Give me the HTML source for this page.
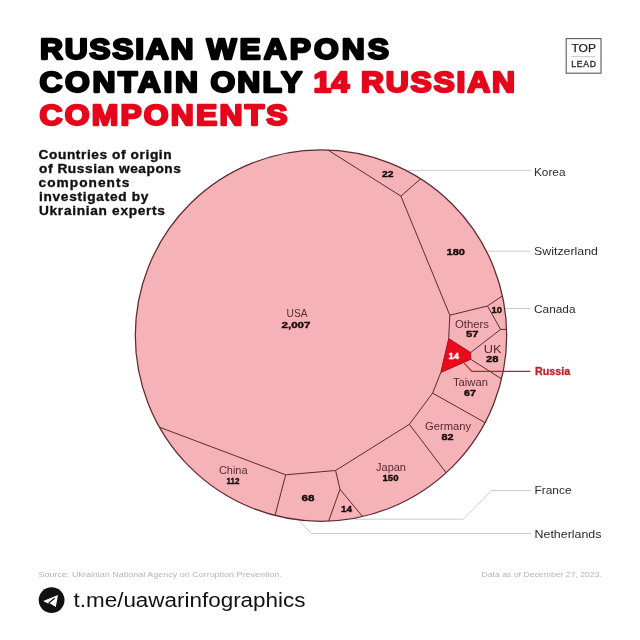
<!DOCTYPE html>
<html><head><meta charset="utf-8"><style>
html,body{margin:0;padding:0;background:#fff;overflow:hidden}
svg{display:block;font-family:"Liberation Sans",sans-serif;will-change:transform;}
</style></head><body>
<svg width="640" height="640" viewBox="0 0 640 640">
<rect width="640" height="640" fill="#fff"/>
<g fill="none" stroke="#cbcbcb" stroke-width="1">
<path d="M408 170.4H531"/>
<path d="M480 251.2H530"/>
<path d="M500 308.5H530.5"/>
<path d="M355 519.2H463.4L491.6 490.6H531.3"/>
<path d="M299.4 520.6L311 533.5H531.3"/>
</g>
<circle cx="321.0" cy="335.6" r="185.7" fill="#f5b3b8" stroke="#5e2a30" stroke-width="1.25"/>
<path d="M327.9 150.0L400.9 196.1M400.9 196.1L420.6 178.9M400.9 196.1L449.8 315.2M449.8 315.2L487.5 306.0M487.5 306.0L502.4 295.9M487.5 306.0L500.6 329.4M500.6 329.4L506.6 329.4M449.8 315.2L448.7 338.6M470.6 352.6L500.6 329.4M470.8 359.3L501.6 378.9M440.8 372.5L432.6 393.1M432.6 393.1L485.0 422.6M432.6 393.1L409.4 424.3M409.4 424.3L446.2 472.8M409.4 424.3L335.6 470.5M335.6 470.5L340.0 489.3M340.0 489.3L362.6 516.6M340.0 489.3L328.6 521.1M335.6 470.5L285.7 474.8M285.7 474.8L275.0 515.5M285.7 474.8L159.5 427.2" fill="none" stroke="#5e2a30" stroke-width="1"/>
<polygon points="448.7,338.6 470.6,352.6 470.8,359.3 440.8,372.5" fill="#ea0a1c" stroke="#a8101a" stroke-width="1" stroke-linejoin="round"/>
<path d="M464.1 363.2L471.9 371.4H530.3" fill="none" stroke="#b8222e" stroke-width="1.2"/>
<rect x="566.2" y="38.6" width="34.8" height="34.6" fill="none" stroke="#5a5a5a" stroke-width="1.1"/>
<line x1="571.5" y1="56.6" x2="595.5" y2="56.6" stroke="#c9a6ac" stroke-width="0.7"/>
<text x="40.00" y="59.45" font-family="Liberation Sans" font-size="28.924418604651162" font-weight="bold" fill="#000000" stroke="#000000" stroke-width="2.3" stroke-linejoin="round" textLength="139.50" lengthAdjust="spacing" transform="translate(-4.00 0) scale(1.1000 1)">RUSSIAN</text>
<text x="206.50" y="59.45" font-family="Liberation Sans" font-size="28.924418604651162" font-weight="bold" fill="#000000" stroke="#000000" stroke-width="2.3" stroke-linejoin="round" textLength="166.00" lengthAdjust="spacing" transform="translate(-20.65 0) scale(1.1000 1)">WEAPONS</text>
<text x="39.50" y="92.05" font-family="Liberation Sans" font-size="28.924418604651162" font-weight="bold" fill="#000000" stroke="#000000" stroke-width="2.3" stroke-linejoin="round" textLength="144.00" lengthAdjust="spacing" transform="translate(-3.95 0) scale(1.1000 1)">CONTAIN</text>
<text x="210.50" y="92.05" font-family="Liberation Sans" font-size="28.924418604651162" font-weight="bold" fill="#000000" stroke="#000000" stroke-width="2.3" stroke-linejoin="round" textLength="83.50" lengthAdjust="spacing" transform="translate(-21.05 0) scale(1.1000 1)">ONLY</text>
<text x="313.50" y="92.05" font-family="Liberation Sans" font-size="28.924418604651162" font-weight="bold" fill="#e6061b" stroke="#e6061b" stroke-width="2.3" stroke-linejoin="round" textLength="32.50" lengthAdjust="spacing" transform="translate(-31.35 0) scale(1.1000 1)">14</text>
<text x="361.00" y="92.05" font-family="Liberation Sans" font-size="28.924418604651162" font-weight="bold" fill="#e6061b" stroke="#e6061b" stroke-width="2.3" stroke-linejoin="round" textLength="140.00" lengthAdjust="spacing" transform="translate(-36.10 0) scale(1.1000 1)">RUSSIAN</text>
<text x="39.50" y="124.55" font-family="Liberation Sans" font-size="28.924418604651162" font-weight="bold" fill="#e6061b" stroke="#e6061b" stroke-width="2.3" stroke-linejoin="round" textLength="225.50" lengthAdjust="spacing" transform="translate(-3.95 0) scale(1.1000 1)">COMPONENTS</text>
<text x="38.50" y="159.32" font-family="Liberation Sans" font-size="12.427325581395351" font-weight="bold" fill="#111111" stroke="#111111" stroke-width="0.35" stroke-linejoin="round" textLength="121.00" lengthAdjust="spacing" transform="translate(-3.85 0) scale(1.1000 1)">Countries of origin</text>
<text x="39.00" y="173.32" font-family="Liberation Sans" font-size="12.427325581395351" font-weight="bold" fill="#111111" stroke="#111111" stroke-width="0.35" stroke-linejoin="round" textLength="129.00" lengthAdjust="spacing" transform="translate(-3.90 0) scale(1.1000 1)">of Russian weapons</text>
<text x="38.50" y="187.42" font-family="Liberation Sans" font-size="12.427325581395351" font-weight="bold" fill="#111111" stroke="#111111" stroke-width="0.35" stroke-linejoin="round" textLength="82.50" lengthAdjust="spacing" transform="translate(-3.85 0) scale(1.1000 1)">components</text>
<text x="39.00" y="201.32" font-family="Liberation Sans" font-size="12.427325581395351" font-weight="bold" fill="#111111" stroke="#111111" stroke-width="0.35" stroke-linejoin="round" textLength="99.50" lengthAdjust="spacing" transform="translate(-3.90 0) scale(1.1000 1)">investigated by</text>
<text x="39.00" y="215.42" font-family="Liberation Sans" font-size="12.427325581395351" font-weight="bold" fill="#111111" stroke="#111111" stroke-width="0.35" stroke-linejoin="round" textLength="114.50" lengthAdjust="spacing" transform="translate(-3.90 0) scale(1.1000 1)">Ukrainian experts</text>
<text x="286.50" y="316.60" font-family="Liberation Sans" font-size="10.0" font-weight="normal" fill="#582a31" textLength="21.00" lengthAdjust="spacingAndGlyphs">USA</text>
<text x="455.00" y="327.50" font-family="Liberation Sans" font-size="10.0" font-weight="normal" fill="#582a31" textLength="34.00" lengthAdjust="spacingAndGlyphs">Others</text>
<text x="483.75" y="352.70" font-family="Liberation Sans" font-size="10.0" font-weight="normal" fill="#582a31" textLength="17.75" lengthAdjust="spacingAndGlyphs">UK</text>
<text x="453.00" y="385.80" font-family="Liberation Sans" font-size="10.0" font-weight="normal" fill="#582a31" textLength="35.00" lengthAdjust="spacingAndGlyphs">Taiwan</text>
<text x="425.00" y="429.50" font-family="Liberation Sans" font-size="10.0" font-weight="normal" fill="#582a31" textLength="46.00" lengthAdjust="spacingAndGlyphs">Germany</text>
<text x="376.00" y="470.80" font-family="Liberation Sans" font-size="10.0" font-weight="normal" fill="#582a31" textLength="30.00" lengthAdjust="spacingAndGlyphs">Japan</text>
<text x="219.00" y="473.70" font-family="Liberation Sans" font-size="10.0" font-weight="normal" fill="#582a31" textLength="28.50" lengthAdjust="spacingAndGlyphs">China</text>
<text x="281.50" y="327.62" font-family="Liberation Sans" font-size="9.084302325581396" font-weight="bold" fill="#140a0c" stroke="#140a0c" stroke-width="0.35" stroke-linejoin="round" textLength="29.00" lengthAdjust="spacingAndGlyphs">2,007</text>
<text x="382.00" y="176.62" font-family="Liberation Sans" font-size="9.084302325581396" font-weight="bold" fill="#140a0c" stroke="#140a0c" stroke-width="0.35" stroke-linejoin="round" textLength="11.50" lengthAdjust="spacingAndGlyphs">22</text>
<text x="446.50" y="254.62" font-family="Liberation Sans" font-size="9.084302325581396" font-weight="bold" fill="#140a0c" stroke="#140a0c" stroke-width="0.35" stroke-linejoin="round" textLength="18.50" lengthAdjust="spacingAndGlyphs">180</text>
<text x="491.50" y="312.93" font-family="Liberation Sans" font-size="9.084302325581396" font-weight="bold" fill="#140a0c" stroke="#140a0c" stroke-width="0.35" stroke-linejoin="round" textLength="10.50" lengthAdjust="spacingAndGlyphs">10</text>
<text x="466.00" y="337.02" font-family="Liberation Sans" font-size="9.084302325581396" font-weight="bold" fill="#140a0c" stroke="#140a0c" stroke-width="0.35" stroke-linejoin="round" textLength="12.50" lengthAdjust="spacingAndGlyphs">57</text>
<text x="486.00" y="362.12" font-family="Liberation Sans" font-size="9.084302325581396" font-weight="bold" fill="#140a0c" stroke="#140a0c" stroke-width="0.35" stroke-linejoin="round" textLength="12.50" lengthAdjust="spacingAndGlyphs">28</text>
<text x="464.00" y="396.22" font-family="Liberation Sans" font-size="9.084302325581396" font-weight="bold" fill="#140a0c" stroke="#140a0c" stroke-width="0.35" stroke-linejoin="round" textLength="12.00" lengthAdjust="spacingAndGlyphs">67</text>
<text x="441.50" y="439.62" font-family="Liberation Sans" font-size="9.084302325581396" font-weight="bold" fill="#140a0c" stroke="#140a0c" stroke-width="0.35" stroke-linejoin="round" textLength="12.00" lengthAdjust="spacingAndGlyphs">82</text>
<text x="382.50" y="480.82" font-family="Liberation Sans" font-size="9.084302325581396" font-weight="bold" fill="#140a0c" stroke="#140a0c" stroke-width="0.35" stroke-linejoin="round" textLength="16.00" lengthAdjust="spacingAndGlyphs">150</text>
<text x="301.50" y="500.52" font-family="Liberation Sans" font-size="9.084302325581396" font-weight="bold" fill="#140a0c" stroke="#140a0c" stroke-width="0.35" stroke-linejoin="round" textLength="13.00" lengthAdjust="spacingAndGlyphs">68</text>
<text x="341.00" y="512.23" font-family="Liberation Sans" font-size="9.084302325581396" font-weight="bold" fill="#140a0c" stroke="#140a0c" stroke-width="0.35" stroke-linejoin="round" textLength="11.00" lengthAdjust="spacingAndGlyphs">14</text>
<text x="226.50" y="484.12" font-family="Liberation Sans" font-size="9.084302325581396" font-weight="bold" fill="#140a0c" stroke="#140a0c" stroke-width="0.35" stroke-linejoin="round" textLength="13.00" lengthAdjust="spacingAndGlyphs">112</text>
<text x="448.50" y="359.10" font-family="Liberation Sans" font-size="9.011627906976743" font-weight="bold" fill="#ffffff" stroke="#ffffff" stroke-width="0.4" stroke-linejoin="round" textLength="10.50" lengthAdjust="spacingAndGlyphs">14</text>
<text x="534.00" y="175.90" font-family="Liberation Sans" font-size="10.5" font-weight="normal" fill="#2a2a2a" textLength="31.50" lengthAdjust="spacingAndGlyphs">Korea</text>
<text x="534.00" y="255.00" font-family="Liberation Sans" font-size="10.5" font-weight="normal" fill="#2a2a2a" textLength="64.00" lengthAdjust="spacingAndGlyphs">Switzerland</text>
<text x="534.00" y="312.90" font-family="Liberation Sans" font-size="10.5" font-weight="normal" fill="#2a2a2a" textLength="41.50" lengthAdjust="spacingAndGlyphs">Canada</text>
<text x="534.50" y="494.00" font-family="Liberation Sans" font-size="10.5" font-weight="normal" fill="#2a2a2a" textLength="37.00" lengthAdjust="spacingAndGlyphs">France</text>
<text x="534.50" y="537.90" font-family="Liberation Sans" font-size="10.5" font-weight="normal" fill="#2a2a2a" textLength="67.00" lengthAdjust="spacingAndGlyphs">Netherlands</text>
<text x="535.00" y="374.60" font-family="Liberation Sans" font-size="10.5" font-weight="bold" fill="#c01f2b" stroke="#c01f2b" stroke-width="0.3" stroke-linejoin="round" textLength="35.25" lengthAdjust="spacingAndGlyphs">Russia</text>
<text x="571.50" y="52.38" font-family="Liberation Sans" font-size="11.4" font-weight="normal" fill="#222222" stroke="#222222" stroke-width="0.25" stroke-linejoin="round" textLength="24.50" lengthAdjust="spacingAndGlyphs">TOP</text>
<text x="571.25" y="67.48" font-family="Liberation Sans" font-size="8.6" font-weight="normal" fill="#222222" stroke="#222222" stroke-width="0.3" stroke-linejoin="round" textLength="24.75" lengthAdjust="spacing">LEAD</text>
<text x="38.50" y="577.40" font-family="Liberation Sans" font-size="7.3" font-weight="normal" fill="#b4b4b4" textLength="243.50" lengthAdjust="spacingAndGlyphs">Source: Ukrainian National Agency on Corruption Prevention.</text>
<text x="481.50" y="577.40" font-family="Liberation Sans" font-size="7.3" font-weight="normal" fill="#b4b4b4" textLength="120.50" lengthAdjust="spacingAndGlyphs">Data as of December 27, 2023.</text>
<text x="73.50" y="606.90" font-family="Liberation Sans" font-size="19.5" font-weight="normal" fill="#111111" textLength="232.00" lengthAdjust="spacingAndGlyphs">t.me/uawarinfographics</text>
<circle cx="51.6" cy="600.1" r="12.9" fill="#111"/>
<path d="M43.2 601L58 595L55.8 607L49.6 603.2L47.5 603.2Z" fill="#fff"/>
<path d="M48.8 603L54.6 598.2" stroke="#111" stroke-width="1.2"/>
</svg>
</body></html>
